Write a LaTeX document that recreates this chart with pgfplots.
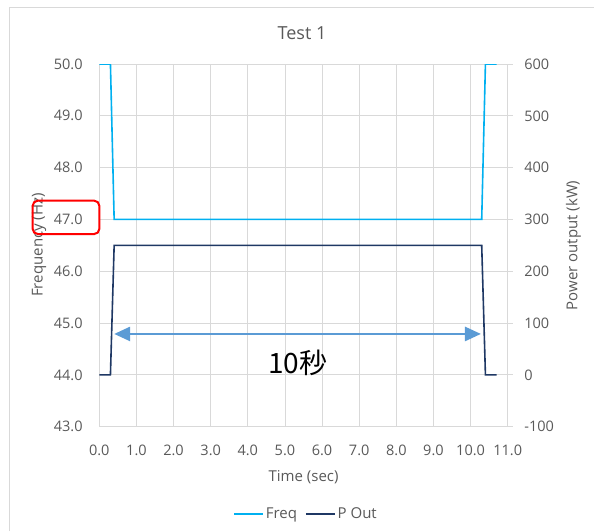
\documentclass[border=0pt]{standalone}
\usepackage{pgfplots}
\pgfplotsset{compat=1.18}
\usepackage{fontspec}
\setmainfont{Open Sans}
\newfontfamily\cjk{Noto Sans CJK JP}
\usetikzlibrary{arrows.meta}

\definecolor{freqc}{HTML}{00B0F0}
\definecolor{poutc}{HTML}{1F3864}
\definecolor{gridc}{HTML}{D9D9D9}
\definecolor{textc}{HTML}{595959}
\definecolor{arrowc}{HTML}{5B9BD5}

\newcommand{\tickfont}{\fontsize{14.5}{17}\selectfont}
\newcommand{\labfont}{\fontsize{15}{18}\selectfont}

\begin{document}
\begin{tikzpicture}
% Frequency (left axis), with the grid
\begin{axis}[
  at={(0pt,0pt)}, anchor=south west,
  scale only axis, width=408.4pt, height=362.7pt,
  xmin=0, xmax=11, ymin=43, ymax=50,
  xtick={0,1,...,11}, ytick={43,44,...,50},
  grid=major, grid style={draw=gridc, line width=0.8pt},
  axis line style={draw=gridc, line width=0.8pt},
  major tick length=0pt,
  tick label style={font=\tickfont, text=textc, inner sep=0pt},
  xticklabel style={anchor=north, yshift=-18pt},
  yticklabel style={anchor=east, xshift=-16.5pt},
  /pgf/number format/.cd, fixed, fixed zerofill, precision=1, assume math mode=true,
]
\addplot[freqc, line width=1.6pt] coordinates {
  (0,50) (0.3,50) (0.4,47) (10.3,47) (10.4,50) (10.7,50)
};
% 10-second interval marker
\draw[arrowc, line width=2.6pt,
  {Triangle[length=16pt,width=14pt]}-{Triangle[length=16pt,width=14pt]}]
  (axis cs:0.4,44.79) -- (axis cs:10.28,44.79);
\node[font=\fontsize{28}{32}\selectfont\cjk, text=black] at (axis cs:5.35,44.23) {10秒};
\end{axis}

% Power output (right axis)
\begin{axis}[
  at={(0pt,0pt)}, anchor=south west,
  scale only axis, width=408.4pt, height=362.7pt,
  xmin=0, xmax=11, ymin=-100, ymax=600,
  axis x line=none,
  axis y line*=right,
  axis line style={draw=gridc, line width=0.8pt, -},
  ytick={-100,0,...,600},
  tick align=outside, major tick length=5pt,
  tick style={draw=gridc, line width=0.8pt},
  tick label style={font=\tickfont, text=textc, inner sep=0pt},
  yticklabel style={anchor=west, xshift=11.5pt},
  /pgf/number format/.cd, fixed, precision=0, assume math mode=true,
  /pgfplots/.cd,
  legend style={at={(0.505,-0.241)}, anchor=center, draw=none, fill=none,
    font=\labfont, text=textc, legend columns=2,
    /tikz/every odd column/.append style={column sep=1pt},
    /tikz/every even column/.append style={column sep=7pt},
    nodes={inner sep=1pt}},
  legend image code/.code={\draw[#1] (0pt,0pt) -- (29pt,0pt);},
]
\addlegendimage{freqc, line width=1.6pt}
\addlegendentry{Freq}
\addplot[poutc, line width=1.6pt] coordinates {
  (0,0) (0.3,0) (0.4,250) (10.3,250) (10.4,0) (10.7,0)
};
\addlegendentry{P Out}
\end{axis}

% titles and axis labels
\node[anchor=base, font=\fontsize{18}{21}\selectfont, text=textc] at (202.7pt,387.4pt) {Test 1};
\node[anchor=base, font=\labfont, text=textc] at (204.3pt,-55pt) {Time (sec)};
\node[anchor=base, rotate=90, font=\labfont, text=textc] at (-56.6pt,181.7pt) {Frequency (Hz)};
\node[anchor=base, rotate=90, font=\labfont, text=textc] at (478pt,181.2pt) {Power output (kW)};

% highlight around the 47.0 label
\draw[red, line width=2pt, rounded corners=5pt] (-66.6pt,192.7pt) rectangle (0pt,226pt);

% chart area border
\draw[gridc, line width=0.8pt] (-90.3pt,-104.3pt) -- (-90.3pt,419.7pt) -- (494.7pt,419.7pt);

\pgfresetboundingbox
\path[use as bounding box] (-99.3pt,-104.3pt) rectangle (494.7pt,426.7pt);
\end{tikzpicture}
\end{document}
